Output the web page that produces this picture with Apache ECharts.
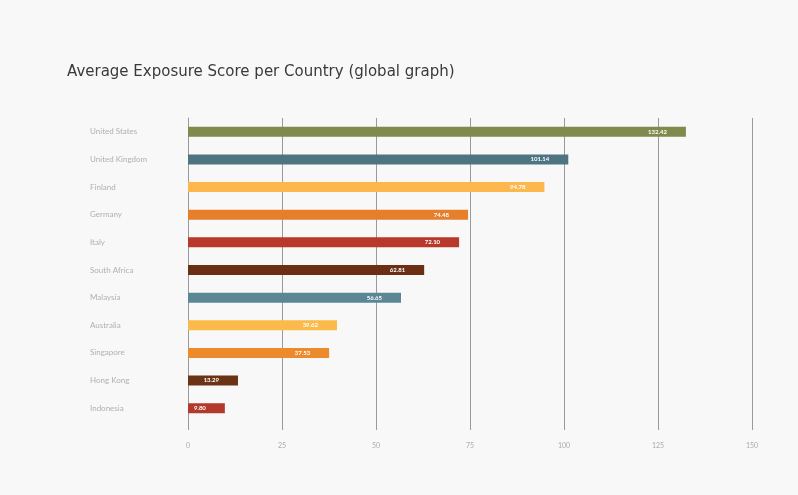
<!DOCTYPE html>
<html><head><meta charset="utf-8">
<script src="https://cdn.jsdelivr.net/npm/echarts@6/dist/echarts.min.js"></script>
<style>html,body{margin:0;padding:0;background:#f8f8f8;}#c{width:798px;height:495px;}</style>
</head><body><div id="c"></div>
<script>
const countries = ["United States","United Kingdom","Finland","Germany","Italy","South Africa","Malaysia","Australia","Singapore","Hong Kong","Indonesia"];
const scores = [132.42, 101.14, 94.78, 74.48, 72.10, 62.81, 56.65, 39.62, 37.53, 13.29, 9.80];
const barColors = ["#7f8a4c","#4d7480","#fcb84e","#e67f2b","#b8392b","#6b3014","#5b8794","#fbba4a","#ec8a2c","#6a3314","#b3392c"];
const xTicks = [0,25,50,75,100,125,150];

const chart = echarts.init(document.getElementById('c'));
chart.setOption({
  backgroundColor: '#f8f8f8',
  animation: false,
  title: {
    text: 'Average Exposure Score per Country (global graph)',
    left: 62, top: 60,
    textStyle: {fontFamily: 'DejaVu Sans', fontWeight: 'normal', fontSize: 15, color: '#3a3a3a'}
  },
  grid: {left: 188, right: 46, top: 118, bottom: 73},
  xAxis: {
    type: 'value', min: xTicks[0], max: xTicks[xTicks.length-1], interval: 25,
    axisLine: {show: false},
    axisTick: {show: true, length: 8, lineStyle: {color: '#9a9a9a'}},
    splitLine: {show: true, lineStyle: {color: '#9a9a9a', width: 1}},
    axisLabel: {color: '#aaa', fontSize: 7, margin: 20, fontFamily: 'Lato'}
  },
  yAxis: {
    type: 'category', data: countries, inverse: true,
    axisLine: {show: true, lineStyle: {color: '#9a9a9a'}}, axisTick: {show: false},
    axisLabel: {color: '#b0b0b0', fontSize: 8, align: 'left', margin: 98, fontFamily: 'Lato'}
  },
  series: [{
    type: 'bar', barWidth: 10,
    data: scores.map((v, i) => ({value: v, itemStyle: {color: barColors[i]}})),
    label: {
      show: true, position: 'insideRight', offset: [-14, 0],
      color: '#fff', fontSize: 6, fontWeight: 'bold', fontFamily: 'Lato',
      formatter: p => p.value.toFixed(2)
    }
  }]
});
</script></body></html>
